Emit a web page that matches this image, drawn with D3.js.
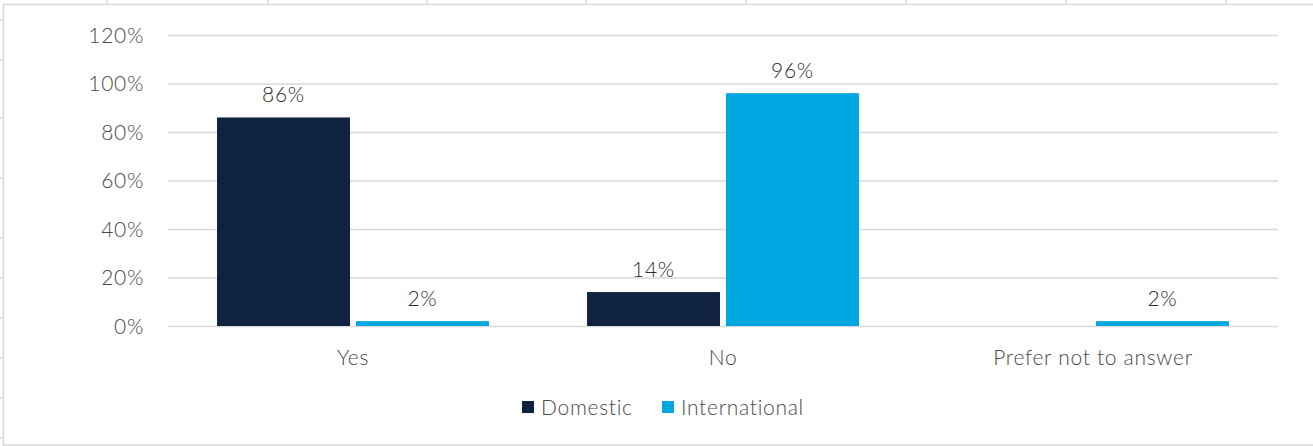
<!DOCTYPE html>
<html>
<head>
<meta charset="utf-8">
<script src="https://cdn.jsdelivr.net/npm/d3@7"></script>
<style>
  html, body { margin: 0; padding: 0; background: #fff; }
  svg { display: block; }
  text { font-family: Lato, "Open Sans", sans-serif; font-weight: 300; letter-spacing: 0.7px; }
</style>
</head>
<body>
<svg id="chart" width="1313" height="446"></svg>
<script>
const categories = ["Yes", "No", "Prefer not to answer"];
const seriesNames = ["Domestic", "International"];
const domesticValues = [86, 14, null];
const internationalValues = [2, 96, 2];
const yTicks = [0, 20, 40, 60, 80, 100, 120];
const seriesColors = ["#0f2341", "#00a7e1"];

const svg = d3.select("#chart");
const W = 1313, H = 446;
const plot = { left: 168, right: 1278, top: 35, bottom: 326 };

// Outer frame (spreadsheet-like border with cell marks)
const frame = svg.append("g").attr("stroke", "#d9d9d9").attr("stroke-width", 1.5).attr("fill", "none");
frame.append("path").attr("d", `M3.5,${H} L3.5,4.5 L${W},4.5`);
frame.append("path").attr("d", `M3.5,445 L${W},445`);
[107, 268, 427, 586, 746, 906, 1066, 1226].forEach(x =>
  frame.append("line").attr("x1", x).attr("x2", x).attr("y1", 0).attr("y2", 4));
[20, 60, 118, 178, 238, 278, 318, 358, 398, 438].forEach(y =>
  frame.append("line").attr("x1", 0).attr("x2", 3).attr("y1", y).attr("y2", y));

const y = d3.scaleLinear().domain([0, 120]).range([plot.bottom, plot.top]);
const x0 = d3.scaleBand().domain(categories).range([plot.left, plot.right])
  .paddingInner(0.265).paddingOuter(0.1325);
const x1 = d3.scaleBand().domain(seriesNames).range([0, x0.bandwidth()]).paddingInner(0.043);

// gridlines
const grid = svg.append("g").attr("transform", `translate(${plot.left},0)`)
  .call(d3.axisLeft(y).tickValues(yTicks).tickSize(-(plot.right - plot.left)).tickFormat(""));
grid.select(".domain").remove();
grid.selectAll(".tick line").attr("stroke", "#d9d9d9").attr("stroke-width", 1.5);

// y labels
const yAxis = svg.append("g").attr("transform", `translate(${plot.left - 24},0)`)
  .call(d3.axisLeft(y).tickValues(yTicks).tickSize(0).tickFormat(d => d + "%"));
yAxis.select(".domain").remove();
yAxis.selectAll("text").attr("fill", "#4a4a4a").attr("font-size", 21)
  .style("font-family", "Lato, sans-serif").attr("dy", "0.35em").attr("x", 0);

// bars
const rows = categories.map((c, i) => ({
  cat: c,
  vals: [
    { s: seriesNames[0], v: domesticValues[i], color: seriesColors[0] },
    { s: seriesNames[1], v: internationalValues[i], color: seriesColors[1] }
  ]
}));
const groups = svg.append("g").selectAll("g").data(rows).join("g")
  .attr("transform", d => `translate(${x0(d.cat)},0)`);
groups.selectAll("rect").data(d => d.vals.filter(v => v.v != null)).join("rect")
  .attr("x", d => x1(d.s)).attr("width", x1.bandwidth())
  .attr("y", d => y(d.v)).attr("height", d => y(0) - y(d.v))
  .attr("fill", d => d.color);
groups.selectAll("text").data(d => d.vals.filter(v => v.v != null)).join("text")
  .attr("x", d => x1(d.s) + x1.bandwidth() / 2)
  .attr("y", d => y(d.v) - 15)
  .attr("text-anchor", "middle").attr("fill", "#2e2e2e").attr("font-size", 21)
  .text(d => d.v + "%");

// x axis labels
const xAxis = svg.append("g").attr("transform", `translate(0,${plot.bottom})`)
  .call(d3.axisBottom(x0).tickSize(0));
xAxis.select(".domain").remove();
xAxis.selectAll("text").attr("fill", "#4a4a4a").attr("font-size", 21)
  .style("font-family", "Lato, sans-serif").attr("y", 0).attr("dy", 39);

// legend
const legend = svg.append("g");
const legendX = [522, 662];
seriesNames.forEach((s, i) => {
  const g = legend.append("g").attr("transform", `translate(${legendX[i]},401)`);
  g.append("rect").attr("width", 12).attr("height", 12).attr("fill", seriesColors[i]);
  g.append("text").attr("x", 19).attr("y", 14).attr("fill", "#4a4a4a").attr("font-size", 21).text(s);
});
</script>
</body>
</html>
